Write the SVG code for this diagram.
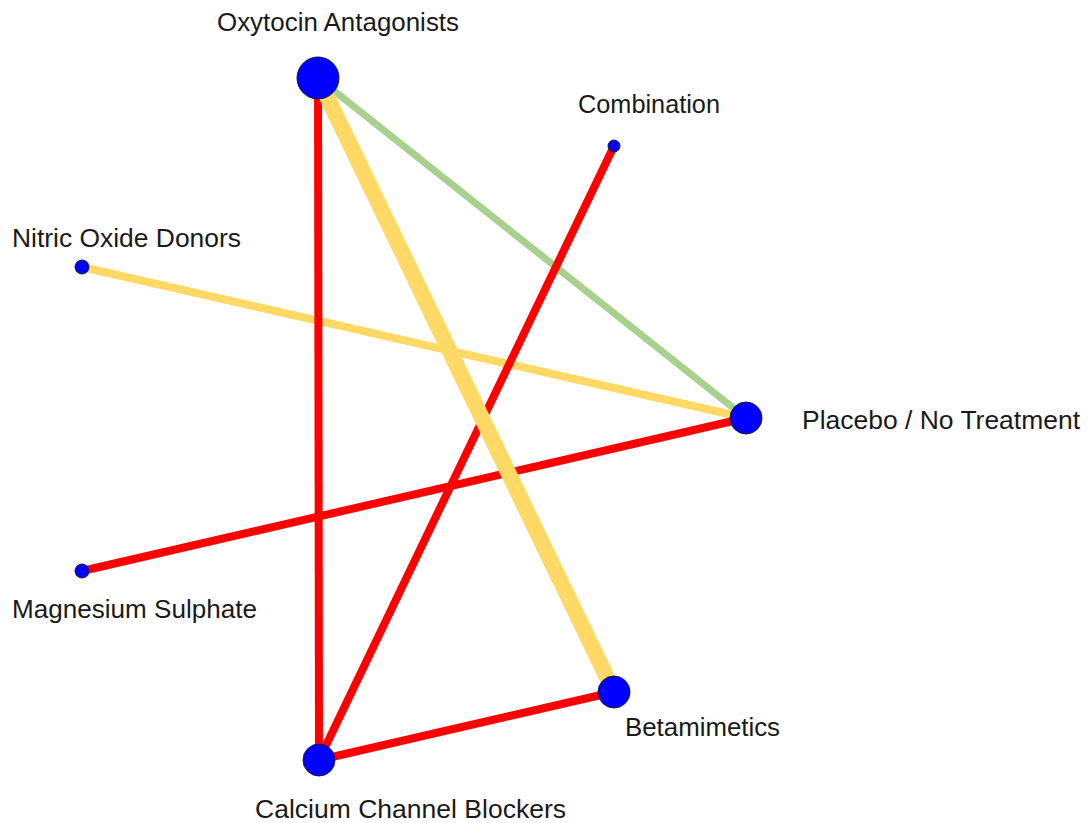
<svg xmlns="http://www.w3.org/2000/svg" width="1091" height="823" viewBox="0 0 1091 823">
<style>
.lbl{font-family:"Liberation Sans",Arial,sans-serif;font-size:25px;fill:#1a1a1a}
.n{fill:#0000ff;stroke:#1a1a3a;stroke-width:1}
.e{stroke-linecap:butt;fill:none}
.red{stroke:#ff0000;stroke-width:8}
.yel{stroke:#ffd966}
.grn{stroke:#a9d18e;stroke-width:7}
</style>
<rect width="1091" height="823" fill="#fff"/>
<g id="connectors">
<line class="e grn" x1="318" y1="78" x2="746" y2="418"/>
<line class="e yel" style="stroke-width:8" x1="82" y1="267" x2="746" y2="418"/>
<line class="e red" x1="82" y1="571" x2="746" y2="418"/>
<line class="e red" x1="318" y1="78" x2="319" y2="760"/>
<line class="e red" x1="614" y1="146" x2="319" y2="760"/>
<line class="e yel" style="stroke-width:16" x1="318" y1="78" x2="614" y2="692"/>
<line class="e red" x1="319" y1="760" x2="614" y2="692"/>
</g>
<g id="oxytocin"><circle class="n" cx="318" cy="78" r="21"/><text class="lbl" x="217" y="31" textLength="242" lengthAdjust="spacingAndGlyphs">Oxytocin Antagonists</text></g>
<g id="combination"><circle class="n" cx="614" cy="146" r="6"/><text class="lbl" x="578" y="113" textLength="142" lengthAdjust="spacingAndGlyphs">Combination</text></g>
<g id="nitric"><circle class="n" cx="82" cy="267" r="7"/><text class="lbl" x="12" y="247" textLength="229" lengthAdjust="spacingAndGlyphs">Nitric Oxide Donors</text></g>
<g id="placebo"><circle class="n" cx="746" cy="418" r="16"/><text class="lbl" x="802" y="429" textLength="278" lengthAdjust="spacingAndGlyphs">Placebo / No Treatment</text></g>
<g id="magnesium"><circle class="n" cx="82" cy="571" r="7"/><text class="lbl" x="12" y="618" textLength="245" lengthAdjust="spacingAndGlyphs">Magnesium Sulphate</text></g>
<g id="betamimetics"><circle class="n" cx="614" cy="692" r="16"/><text class="lbl" x="625" y="736" textLength="155" lengthAdjust="spacingAndGlyphs">Betamimetics</text></g>
<g id="ccb"><circle class="n" cx="319" cy="760" r="16"/><text class="lbl" x="255" y="818" textLength="311" lengthAdjust="spacingAndGlyphs">Calcium Channel Blockers</text></g>
</svg>
